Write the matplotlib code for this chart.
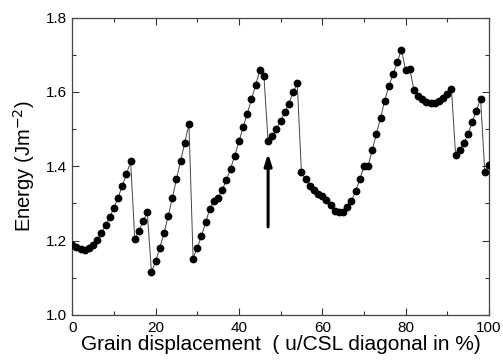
import numpy as np
import matplotlib.pyplot as plt
from matplotlib.ticker import MultipleLocator

# grain displacement (% of CSL diagonal), one point per percent
displacement = np.arange(0, 101)

energy = [
    1.188, 1.184, 1.177, 1.176, 1.181, 1.189, 1.203, 1.221, 1.242, 1.264,
    1.288, 1.316, 1.347, 1.379, 1.413, 1.205, 1.227, 1.252, 1.276, 1.116,
    1.144, 1.180, 1.220, 1.265, 1.314, 1.365, 1.415, 1.464, 1.513, 1.152,
    1.181, 1.212, 1.249, 1.286, 1.308, 1.314, 1.337, 1.363, 1.394, 1.429,
    1.467, 1.505, 1.542, 1.580, 1.618, 1.658, 1.642, 1.467, 1.481, 1.500,
    1.522, 1.545, 1.569, 1.599, 1.623, 1.384, 1.365, 1.348, 1.335, 1.325,
    1.320, 1.310, 1.295, 1.281, 1.276, 1.276, 1.290, 1.307, 1.333, 1.365,
    1.400, 1.400, 1.444, 1.487, 1.531, 1.577, 1.616, 1.648, 1.680, 1.714,
    1.659, 1.662, 1.605, 1.589, 1.580, 1.573, 1.570, 1.570, 1.575, 1.583,
    1.595, 1.609, 1.431, 1.444, 1.462, 1.488, 1.519, 1.550, 1.582, 1.386,
    1.403,
]

# arrow marking the configuration of interest
arrow_x = 47
arrow_from, arrow_to = 1.237, 1.435

plt.rcParams['font.family'] = ['Liberation Sans', 'DejaVu Sans']

fig = plt.figure(figsize=(5.03, 3.60), dpi=100)
ax = fig.add_axes([0.1437, 0.125, 0.8283, 0.826])

ax.plot(displacement, energy, color='#444444', linewidth=0.7,
        marker='o', markersize=4.6, markerfacecolor='black',
        markeredgecolor='black', zorder=3)

ax.annotate('', xy=(arrow_x, arrow_to), xytext=(arrow_x, arrow_from),
            arrowprops=dict(arrowstyle='-|>,head_length=0.7,head_width=0.22',
                            color='black', linewidth=2.2, shrinkA=0, shrinkB=0))

ax.set_xlim(0, 100)
ax.set_ylim(1.0, 1.8)
ax.xaxis.set_major_locator(MultipleLocator(20))
ax.xaxis.set_minor_locator(MultipleLocator(10))
ax.yaxis.set_major_locator(MultipleLocator(0.2))
ax.yaxis.set_minor_locator(MultipleLocator(0.1))
ax.yaxis.set_major_formatter('{x:.1f}')

ax.tick_params(which='both', direction='in', top=True, right=True,
               labelsize=11, width=0.8, color='#333333')
ax.tick_params(which='major', length=5, pad=4)
ax.tick_params(which='minor', length=3)
for spine in ax.spines.values():
    spine.set_color('#444444')
    spine.set_linewidth(0.9)

ax.set_xlabel('Grain displacement  ( u/CSL diagonal in %)', fontsize=15,
              labelpad=0)
ax.set_ylabel('Energy (Jm$^{-2}$)', fontsize=14.5, labelpad=6)

fig.savefig('out.png', dpi=100)
